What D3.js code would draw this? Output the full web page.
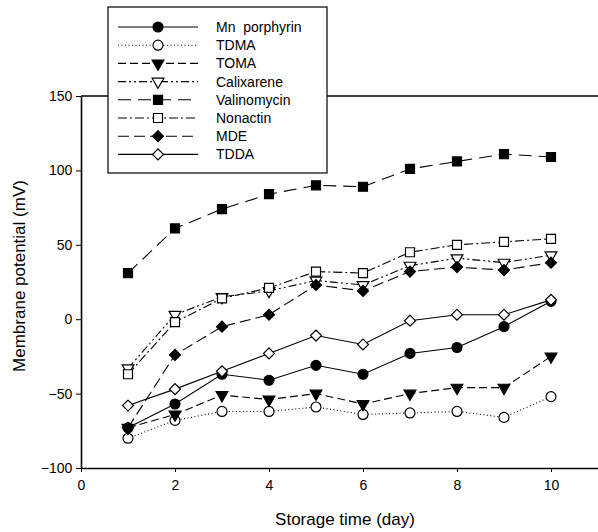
<!DOCTYPE html>
<html>
<head>
<meta charset="utf-8">
<script src="https://cdn.jsdelivr.net/npm/d3@7"></script>
<style>
  body { margin: 0; background: #fff; }
  text { font-family: "Liberation Sans", Arial, sans-serif; fill: #000; }
</style>
</head>
<body>
<script>
// Data
const days = [1, 2, 3, 4, 5, 6, 7, 8, 9, 10];
const names = ['Mn  porphyrin', 'TDMA', 'TOMA', 'Calixarene', 'Valinomycin', 'Nonactin', 'MDE', 'TDDA'];
const mnPorphyrin = [-73, -57, -37, -41, -31, -37, -23, -19, -5, 12];
const tdma = [-80, -68, -62, -62, -59, -64, -63, -62, -66, -52];
const toma = [-73, -64, -51, -54, -50, -57, -50, -46, -46, -25];
const calixarene = [-33, 3, 15, 19, 26, 23, 36, 41, 38, 43];
const valinomycin = [31, 61, 74, 84, 90, 89, 101, 106, 111, 109];
const nonactin = [-37, -2, 14, 21, 32, 31, 45, 50, 52, 54];
const mde = [-73, -24, -5, 3, 23, 19, 32, 35, 33, 38];
const tdda = [-58, -47, -35, -23, -11, -17, -1, 3, 3, 13];
const xTicks = [0, 2, 4, 6, 8, 10];
const yTicks = [-100, -50, 0, 50, 100, 150];

const series = [
  { name: names[0], values: mnPorphyrin, dash: null, marker: 'circle', fill: '#000' },
  { name: names[1], values: tdma, dash: '1,2.5', marker: 'circle', fill: '#fff' },
  { name: names[2], values: toma, dash: '8,4', marker: 'triangle', fill: '#000' },
  { name: names[3], values: calixarene, dash: '8,3,2,3,2,3', marker: 'triangle', fill: '#fff' },
  { name: names[4], values: valinomycin, dash: '13,7', marker: 'square', fill: '#000' },
  { name: names[5], values: nonactin, dash: '9,3,2,3', marker: 'square', fill: '#fff' },
  { name: names[6], values: mde, dash: '11,5', marker: 'diamond', fill: '#000' },
  { name: names[7], values: tdda, dash: null, marker: 'diamond', fill: '#fff' }
];

const width = 598, height = 532;
const margin = { top: 96, right: 0, bottom: 64, left: 81 };

const svg = d3.select('body').append('svg')
  .attr('width', width)
  .attr('height', height);

const x = d3.scaleLinear().domain([0, 11]).range([margin.left, width - margin.right]);
const y = d3.scaleLinear().domain([-100, 150]).range([height - margin.bottom, margin.top]);

const symbols = {
  circle: d3.symbol().type(d3.symbolCircle).size(78),
  square: d3.symbol().type(d3.symbolSquare).size(81),
  diamond: d3.symbol().type(d3.symbolSquare).size(60),
  triangle: d3.symbol().type(d3.symbolTriangle).size(60)
};
// triangles point down, diamonds are rotated squares
const markerTransform = (m) => (m === 'triangle' ? ' rotate(180)' : m === 'diamond' ? ' rotate(45)' : '');

// Axes
svg.append('g')
  .attr('transform', `translate(0,${y(-100)})`)
  .call(d3.axisBottom(x).tickValues(xTicks).tickSize(4).tickSizeOuter(0))
  .call((g) => g.select('.domain').attr('stroke-width', 1.3))
  .call((g) => g.selectAll('.tick text').attr('font-size', 14).attr('dy', '1.05em'));

svg.append('g')
  .attr('transform', `translate(${x(0)},0)`)
  .call(d3.axisLeft(y).tickValues(yTicks).tickSize(5).tickSizeOuter(0))
  .call((g) => g.select('.domain').attr('stroke-width', 1.6))
  .call((g) => g.selectAll('.tick text').attr('font-size', 14).attr('dx', '-0.05em'));

// top frame line
svg.append('line')
  .attr('x1', x(0)).attr('x2', x(11))
  .attr('y1', y(150)).attr('y2', y(150))
  .attr('stroke', '#000').attr('stroke-width', 1.3);

// Axis titles
svg.append('text')
  .attr('x', 345).attr('y', 525)
  .attr('text-anchor', 'middle')
  .attr('font-size', 17)
  .text('Storage time (day)');

svg.append('text')
  .attr('transform', `translate(25,276) rotate(-90)`)
  .attr('text-anchor', 'middle')
  .attr('font-size', 17)
  .text('Membrane potential (mV)');

// Lines and markers
const line = d3.line().x((d, i) => x(days[i])).y((d) => y(d));

const plot = svg.append('g');
series.forEach((s) => {
  plot.append('path')
    .attr('d', line(s.values))
    .attr('fill', 'none')
    .attr('stroke', '#000')
    .attr('stroke-width', 1.1)
    .attr('stroke-dasharray', s.dash);
});
series.forEach((s) => {
  plot.append('g')
    .selectAll('path')
    .data(s.values)
    .join('path')
    .attr('d', symbols[s.marker])
    .attr('transform', (d, i) => `translate(${x(days[i])},${y(d)})` + markerTransform(s.marker))
    .attr('fill', s.fill)
    .attr('stroke', '#000')
    .attr('stroke-width', 1.2);
});

// Legend
const legend = svg.append('g');
legend.append('rect')
  .attr('x', 108).attr('y', 7)
  .attr('width', 219).attr('height', 166)
  .attr('fill', '#fff')
  .attr('stroke', '#000')
  .attr('stroke-width', 1.2);

const rows = legend.selectAll('g.row')
  .data(series)
  .join('g')
  .attr('class', 'row')
  .attr('transform', (d, i) => `translate(0,${27 + i * 18.2})`);

rows.append('line')
  .attr('x1', 118).attr('x2', 198)
  .attr('stroke', '#000')
  .attr('stroke-width', 1.1)
  .attr('stroke-dasharray', (d) => d.dash);

rows.append('path')
  .attr('d', (d) => symbols[d.marker]())
  .attr('transform', (d) => 'translate(158,0)' + markerTransform(d.marker))
  .attr('fill', (d) => d.fill)
  .attr('stroke', '#000')
  .attr('stroke-width', 1.2);

rows.append('text')
  .attr('x', 216)
  .attr('dy', '0.35em')
  .attr('font-size', 14)
  .attr('xml:space', 'preserve')
  .style('white-space', 'pre')
  .text((d) => d.name);
</script>
</body>
</html>
